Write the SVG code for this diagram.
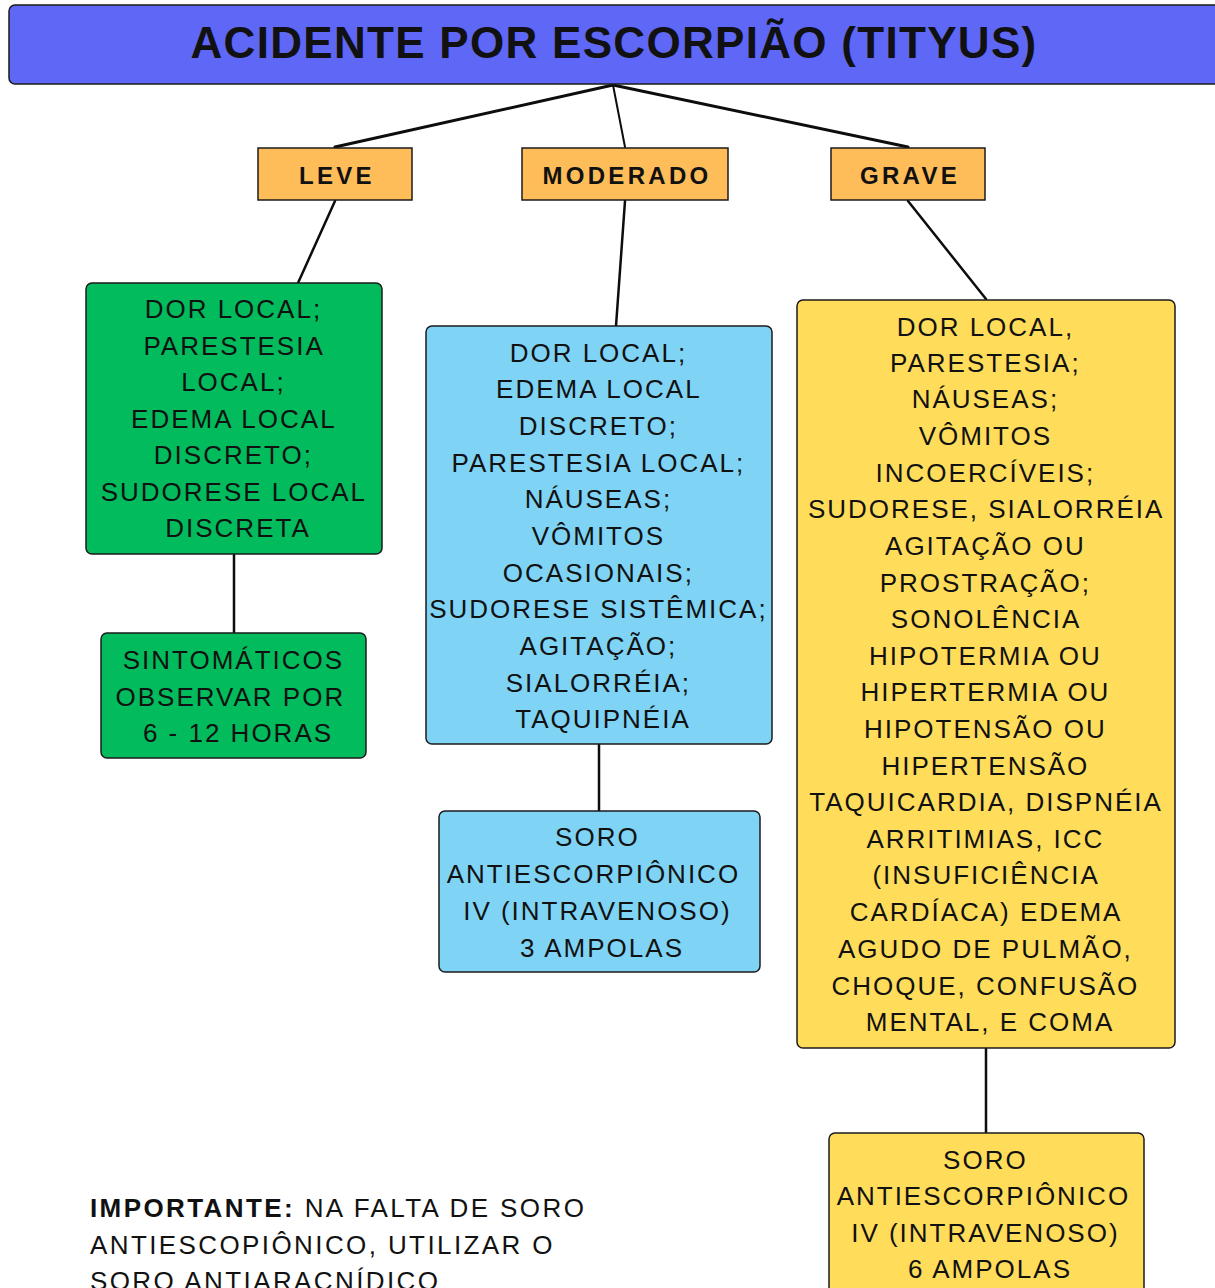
<svg xmlns="http://www.w3.org/2000/svg" width="1215" height="1288" viewBox="0 0 1215 1288">
  <style>
    .box { stroke: #1b1b1b; stroke-width: 1.5; }
    .title { fill: #5e67f6; }
    .level { fill: #ffbd59; }
    .green { fill: #02bb5c; }
    .blue { fill: #7fd4f6; }
    .yellow { fill: #ffdd5a; }
    .link { stroke: #0d0d0d; fill: none; stroke-linecap: round; }
    text { font-family: "Liberation Sans", Arial, sans-serif; fill: #111; }
    .t-title { font-size: 44px; font-weight: bold; letter-spacing: 1.3px; text-anchor: middle; }
    .t-level { font-size: 24px; font-weight: bold; letter-spacing: 3.3px; text-anchor: middle; }
    .t-body { font-size: 26px; letter-spacing: 2px; text-anchor: middle; }
    .t-note { font-size: 26px; letter-spacing: 2.4px; }
  </style>

  <!-- connectors -->
  <g id="connectors">
    <line class="link" x1="613" y1="85" x2="335" y2="147" stroke-width="3"/>
    <line class="link" x1="613" y1="85" x2="625" y2="147" stroke-width="2"/>
    <line class="link" x1="613" y1="85" x2="908" y2="147" stroke-width="3"/>
    <line class="link" x1="335" y1="201" x2="298" y2="283" stroke-width="2.5"/>
    <line class="link" x1="625" y1="201" x2="616" y2="326" stroke-width="2.5"/>
    <line class="link" x1="908" y1="201" x2="986" y2="299" stroke-width="2.5"/>
    <line class="link" x1="234" y1="555" x2="234" y2="633" stroke-width="2.5"/>
    <line class="link" x1="599" y1="745" x2="599" y2="811" stroke-width="2.5"/>
    <line class="link" x1="986" y1="1049" x2="986" y2="1133" stroke-width="2.5"/>
  </g>

  <!-- title -->
  <g id="title">
    <rect class="box title" x="9" y="5" width="1212" height="79" rx="6"/>
    <text class="t-title" x="614" y="58">ACIDENTE POR ESCORPIÃO (TITYUS)</text>
  </g>

  <!-- severity levels -->
  <g id="leve">
    <rect class="box level" x="258" y="148" width="154" height="52"/>
    <text class="t-level" x="337" y="184">LEVE</text>
  </g>
  <g id="moderado">
    <rect class="box level" x="522" y="148" width="206" height="52"/>
    <text class="t-level" x="627" y="184">MODERADO</text>
  </g>
  <g id="grave">
    <rect class="box level" x="831" y="148" width="154" height="52"/>
    <text class="t-level" x="910" y="184">GRAVE</text>
  </g>

  <!-- mild: symptoms and conduct -->
  <g id="leve-sintomas">
    <rect class="box green" x="86" y="283" width="296" height="271" rx="6"/>
    <text class="t-body" x="238">
      <tspan x="238" y="318">DOR LOCAL;</tspan>
      <tspan x="238" y="355">PARESTESIA</tspan>
      <tspan x="238" y="391">LOCAL;</tspan>
      <tspan x="238" y="428">EDEMA LOCAL</tspan>
      <tspan x="238" y="464">DISCRETO;</tspan>
      <tspan x="238" y="501">SUDORESE LOCAL</tspan>
      <tspan x="238" y="537">DISCRETA</tspan>
    </text>
  </g>
  <g id="leve-conduta">
    <rect class="box green" x="101" y="633" width="265" height="125" rx="6"/>
    <text class="t-body" x="238">
      <tspan x="238" y="669">SINTOMÁTICOS</tspan>
      <tspan x="235" y="706">OBSERVAR POR</tspan>
      <tspan x="238" y="742">6 - 12 HORAS</tspan>
    </text>
  </g>

  <!-- moderate: symptoms and conduct -->
  <g id="moderado-sintomas">
    <rect class="box blue" x="426" y="326" width="346" height="418" rx="6"/>
    <text class="t-body" x="603">
      <tspan x="603" y="362">DOR LOCAL;</tspan>
      <tspan x="603" y="398">EDEMA LOCAL</tspan>
      <tspan x="603" y="435">DISCRETO;</tspan>
      <tspan x="603" y="472">PARESTESIA LOCAL;</tspan>
      <tspan x="603" y="508">NÁUSEAS;</tspan>
      <tspan x="603" y="545">VÔMITOS</tspan>
      <tspan x="603" y="582">OCASIONAIS;</tspan>
      <tspan x="603" y="618">SUDORESE SISTÊMICA;</tspan>
      <tspan x="603" y="655">AGITAÇÃO;</tspan>
      <tspan x="603" y="692">SIALORRÉIA;</tspan>
      <tspan x="603" y="728">TAQUIPNÉIA</tspan>
    </text>
  </g>
  <g id="moderado-conduta">
    <rect class="box blue" x="439" y="811" width="321" height="161" rx="6"/>
    <text class="t-body" x="602">
      <tspan x="602" y="846">SORO</tspan>
      <tspan x="598" y="883">ANTIESCORPIÔNICO</tspan>
      <tspan x="602" y="920">IV (INTRAVENOSO)</tspan>
      <tspan x="602" y="957">3 AMPOLAS</tspan>
    </text>
  </g>

  <!-- severe: symptoms and conduct -->
  <g id="grave-sintomas">
    <rect class="box yellow" x="797" y="300" width="378" height="748" rx="6"/>
    <text class="t-body" x="990">
      <tspan x="990" y="336">DOR LOCAL,</tspan>
      <tspan x="990" y="372">PARESTESIA;</tspan>
      <tspan x="990" y="408">NÁUSEAS;</tspan>
      <tspan x="990" y="445">VÔMITOS</tspan>
      <tspan x="990" y="482">INCOERCÍVEIS;</tspan>
      <tspan x="990" y="518">SUDORESE, SIALORRÉIA</tspan>
      <tspan x="990" y="555">AGITAÇÃO OU</tspan>
      <tspan x="990" y="592">PROSTRAÇÃO;</tspan>
      <tspan x="990" y="628">SONOLÊNCIA</tspan>
      <tspan x="990" y="665">HIPOTERMIA OU</tspan>
      <tspan x="990" y="701">HIPERTERMIA OU</tspan>
      <tspan x="990" y="738">HIPOTENSÃO OU</tspan>
      <tspan x="990" y="775">HIPERTENSÃO</tspan>
      <tspan x="990" y="811">TAQUICARDIA, DISPNÉIA</tspan>
      <tspan x="990" y="848">ARRITIMIAS, ICC</tspan>
      <tspan x="990" y="884">(INSUFICIÊNCIA</tspan>
      <tspan x="990" y="921">CARDÍACA) EDEMA</tspan>
      <tspan x="990" y="958">AGUDO DE PULMÃO,</tspan>
      <tspan x="990" y="995">CHOQUE, CONFUSÃO</tspan>
      <tspan x="990" y="1031">MENTAL, E COMA</tspan>
    </text>
  </g>
  <g id="grave-conduta">
    <rect class="box yellow" x="829" y="1133" width="315" height="170" rx="6"/>
    <text class="t-body" x="990">
      <tspan x="990" y="1169">SORO</tspan>
      <tspan x="988" y="1205">ANTIESCORPIÔNICO</tspan>
      <tspan x="990" y="1242">IV (INTRAVENOSO)</tspan>
      <tspan x="990" y="1278">6 AMPOLAS</tspan>
    </text>
  </g>

  <!-- footnote -->
  <g id="nota">
    <text class="t-note" x="90">
      <tspan x="90" y="1217"><tspan font-weight="bold">IMPORTANTE:</tspan> NA FALTA DE SORO</tspan>
      <tspan x="90" y="1254">ANTIESCOPIÔNICO, UTILIZAR O</tspan>
      <tspan x="90" y="1290">SORO ANTIARACNÍDICO</tspan>
    </text>
  </g>
</svg>
